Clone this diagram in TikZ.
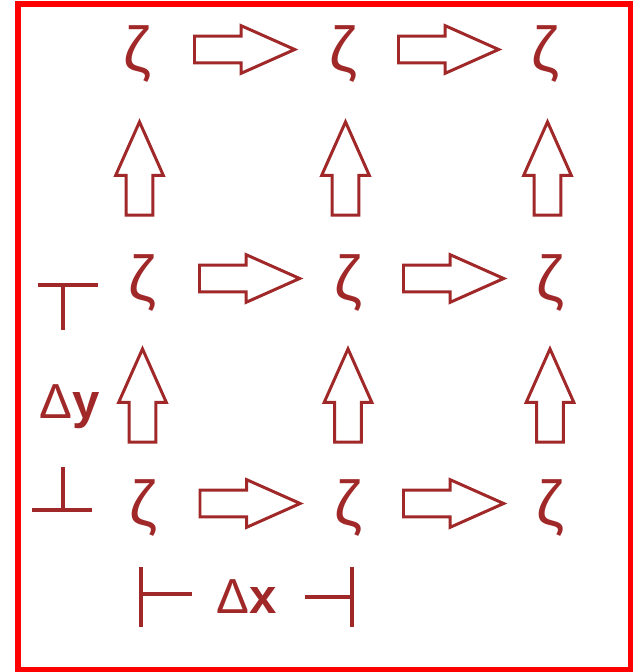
\documentclass[tikz,border=0pt]{standalone}
\usepackage{fontspec}
\setmainfont{Liberation Sans}
\newfontfamily\labelfont{Liberation Sans}
\usetikzlibrary{shapes.arrows,calc}
\definecolor{gridRed}{RGB}{160,40,40}
\definecolor{frameRed}{RGB}{255,0,0}

\begin{document}
\begin{tikzpicture}[
    x=0.02cm, y=-0.02cm,
    zeta/.style={text=gridRed, font=\fontsize{36}{36}\selectfont, inner sep=0pt},
    flux/.style={single arrow, draw=gridRed, line width=1.7pt, inner xsep=0pt, inner ysep=6.8pt, single arrow head extend=5.9pt, single arrow tip angle=48, single arrow head indent=0pt, anchor=tail},
    fluxright/.style={flux, minimum height=57pt},
    fluxup/.style={flux, minimum height=53pt, rotate=90},
    bracket/.style={draw=gridRed, line width=2pt},
    delta/.style={text=gridRed, font=\labelfont\fontsize{28}{28}\selectfont, inner sep=0pt}
  ]
    \useasboundingbox (0,0) rectangle (634,672);
    \draw[frameRed, line width=3.1pt] (18,4) rectangle (630.5,669.5);

    % grid values
    \node[zeta] (zA1) at (137,54) {ζ};
    \node[zeta] (zA2) at (343,54) {ζ};
    \node[zeta] (zA3) at (545,54) {ζ};
    \node[zeta] (zB1) at (142,283) {ζ};
    \node[zeta] (zB2) at (348,283) {ζ};
    \node[zeta] (zB3) at (550,283) {ζ};
    \node[zeta] (zC1) at (143,508) {ζ};
    \node[zeta] (zC2) at (348,508) {ζ};
    \node[zeta] (zC3) at (550,508) {ζ};

    % horizontal fluxes
    \node[fluxright] (fA1) at ($(zA1)!0.5!(zA2)+(-47,-4.5)$) {};
    \node[fluxright] (fA2) at ($(zA2)!0.5!(zA3)+(-47,-4.5)$) {};
    \node[fluxright] (fB1) at ($(zB1)!0.5!(zB2)+(-47,-4.5)$) {};
    \node[fluxright] (fB2) at ($(zB2)!0.5!(zB3)+(-47,-4.5)$) {};
    \node[fluxright] (fC1) at ($(zC1)!0.5!(zC2)+(-47,-4.5)$) {};
    \node[fluxright] (fC2) at ($(zC2)!0.5!(zC3)+(-47,-4.5)$) {};

    % vertical fluxes
    \node[fluxup] (gA1) at ($(zB1)!0.5!(zA1)+(0,48)$) {};
    \node[fluxup] (gA2) at ($(zB2)!0.5!(zA2)+(0,48)$) {};
    \node[fluxup] (gA3) at ($(zB3)!0.5!(zA3)+(0,48)$) {};
    \node[fluxup] (gB1) at ($(zC1)!0.5!(zB1)+(0,48)$) {};
    \node[fluxup] (gB2) at ($(zC2)!0.5!(zB2)+(0,48)$) {};
    \node[fluxup] (gB3) at ($(zC3)!0.5!(zB3)+(0,48)$) {};

    % spacings
    \node[delta] (dy) at (70,407) {Δ\textbf{y}};
    \draw[bracket] (38,285) -- (98,285) (63,285) -- (63,330);
    \draw[bracket] (32,510) -- (92,510) (63,510) -- (63,467);
    \node[delta] (dx) at (247,597) {Δ\textbf{x}};
    \draw[bracket] (141,567) -- (141,627) (141,594) -- (192,594);
    \draw[bracket] (352,567) -- (352,627) (352,597) -- (305,597);
  \end{tikzpicture}
\end{document}
